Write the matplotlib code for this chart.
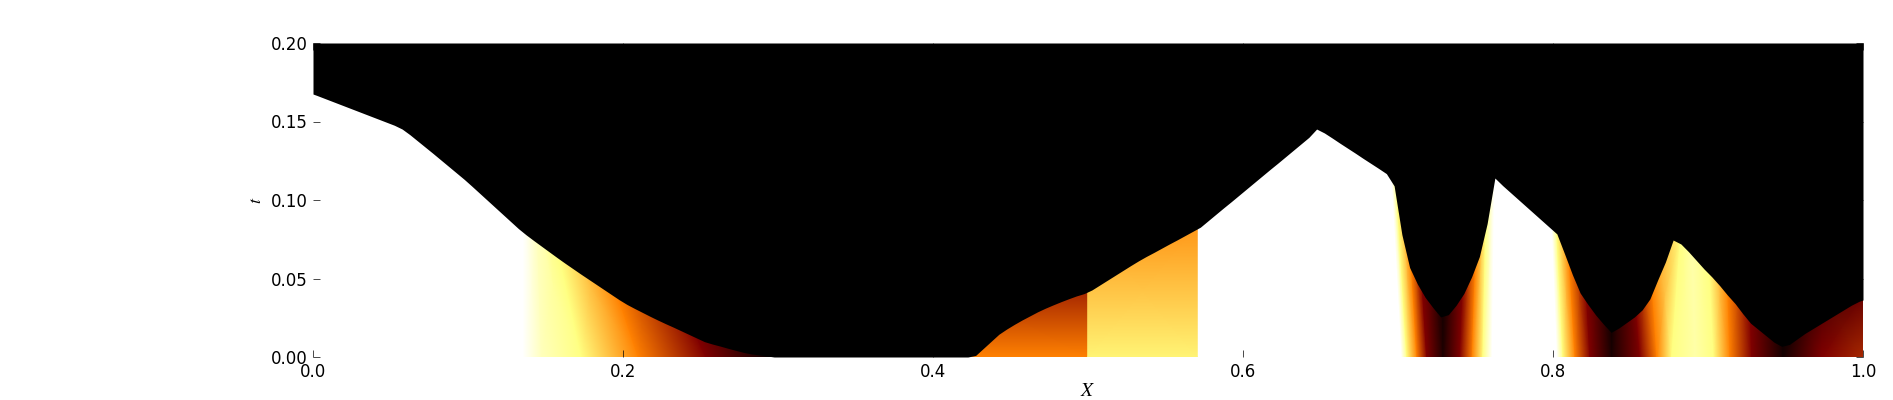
import numpy as np
import matplotlib
matplotlib.use('Agg')
import matplotlib.pyplot as plt

plt.rcParams['mathtext.fontset'] = 'stix'

# Height of the black region's lower edge, every 0.005 in x
front_t = [0.1666, 0.1647, 0.1628, 0.1609, 0.159, 0.1571, 0.1552, 0.1533, 0.1514, 0.1495,
           0.1476, 0.1452, 0.1416, 0.1376, 0.1336, 0.1296, 0.1255, 0.1214, 0.1173, 0.1132,
           0.1088, 0.1043, 0.0998, 0.0953, 0.0908, 0.0863, 0.0818, 0.0778, 0.0741, 0.0705,
           0.0669, 0.0633, 0.0598, 0.0564, 0.053, 0.0497, 0.0464, 0.0431, 0.0398, 0.0365,
           0.0335, 0.0309, 0.0284, 0.0259, 0.0235, 0.0212, 0.019, 0.0167, 0.0144, 0.0121,
           0.0098, 0.0083, 0.007, 0.0056, 0.0043, 0.003, 0.002, 0.0014, 0.0007, 0.0,
           0.0, 0.0, 0.0, 0.0, 0.0, 0.0, 0.0, 0.0, 0.0, 0.0,
           0.0, 0.0, 0.0, 0.0, 0.0, 0.0, 0.0, 0.0, 0.0, 0.0,
           0.0, 0.0, 0.0, 0.0, 0.0, 0.001, 0.0055, 0.01, 0.0145, 0.0178,
           0.0208, 0.0236, 0.0262, 0.0288, 0.0311, 0.0332, 0.0352, 0.0371, 0.0389, 0.0404,
           0.0427, 0.0458, 0.0489, 0.052, 0.0551, 0.0582, 0.0612, 0.064, 0.0666, 0.0693,
           0.072, 0.0746, 0.0773, 0.08, 0.0827, 0.0868, 0.0909, 0.095, 0.099, 0.1031,
           0.1072, 0.1113, 0.1154, 0.1195, 0.1235, 0.1276, 0.1317, 0.1358, 0.1399, 0.1452,
           0.1427, 0.1395, 0.1362, 0.133, 0.1298, 0.1265, 0.1233, 0.1201, 0.1168, 0.109,
           0.078, 0.057, 0.0465, 0.038, 0.0315, 0.0255, 0.027, 0.033, 0.0405, 0.0511,
           0.064, 0.085, 0.114, 0.1092, 0.1048, 0.1004, 0.096, 0.0916, 0.0872, 0.0828,
           0.0784, 0.0656, 0.0525, 0.0408, 0.0335, 0.0268, 0.021, 0.0157, 0.0185, 0.022,
           0.0255, 0.03, 0.037, 0.049, 0.0605, 0.0745, 0.072, 0.067, 0.0615, 0.056,
           0.051, 0.0455, 0.0395, 0.034, 0.0275, 0.0215, 0.0175, 0.0135, 0.0095, 0.0068,
           0.008, 0.0115, 0.015, 0.018, 0.021, 0.024, 0.027, 0.03, 0.033, 0.0355]

# Coloured patches: x of each level at the bottom and top row, and the level there
a_top = 0.09
a_x0 = [0.1357, 0.1473, 0.1733, 0.2099, 0.2536, 0.2977]
a_x1 = [0.1357, 0.1445, 0.1533, 0.1793, 0.2116, 0.25]
a_v0 = [1.0, 0.87, 0.75, 0.5, 0.25, 0.0]
a_v1 = [1.0, 0.87, 0.75, 0.5, 0.25, 0.0]

b_top = 0.045
b_x0 = [0.4176, 0.4998]
b_x1 = [0.4176, 0.4998]
b_v0 = [0.5, 0.5]
b_v1 = [0.31, 0.31]

c_top = 0.085
c_x0 = [0.4998, 0.5705]
c_x1 = [0.4998, 0.5705]
c_v0 = [0.73, 0.73]
c_v1 = [0.54, 0.54]

d_top = 0.115
d_x0 = [0.7023, 0.7056, 0.7121, 0.7185, 0.7291, 0.74, 0.7479, 0.7548, 0.7604]
d_x1 = [0.6959, 0.6985, 0.7052, 0.7112, 0.7291, 0.7442, 0.7517, 0.7572, 0.762]
d_v0 = [1.0, 0.75, 0.5, 0.25, 0.06, 0.25, 0.5, 0.75, 1.0]
d_v1 = [1.0, 0.75, 0.5, 0.25, 0.0, 0.25, 0.5, 0.75, 1.0]

e_top = 0.08
e_x0 = [0.8026, 0.8064, 0.8142, 0.8238, 0.8379, 0.8561, 0.867, 0.8766, 0.8917, 0.9036, 0.9141, 0.9282, 0.9484]
e_x1 = [0.7994, 0.8024, 0.8094, 0.8194, 0.8379, 0.8495, 0.8616, 0.8825, 0.8896, 0.8997, 0.9117, 0.9258, 0.9484]
e_v0 = [1.0, 0.75, 0.5, 0.25, 0.05, 0.25, 0.5, 0.75, 0.83, 0.75, 0.5, 0.25, 0.04]
e_v1 = [1.0, 0.75, 0.5, 0.25, 0.0, 0.25, 0.5, 0.75, 0.83, 0.75, 0.5, 0.25, 0.0]

f_top = 0.04
f_x0 = [0.9484, 0.9734, 1.0]
f_x1 = [0.9484, 0.9734, 1.0]
f_v0 = [0.04, 0.25, 0.33]
f_v1 = [0.0, 0.14, 0.2]

xticks = [0.0, 0.2, 0.4, 0.6, 0.8, 1.0]
yticks = [0.0, 0.05, 0.1, 0.15, 0.2]

patches = [(a_top, a_x0, a_x1, a_v0, a_v1),
           (b_top, b_x0, b_x1, b_v0, b_v1),
           (c_top, c_x0, c_x1, c_v0, c_v1),
           (d_top, d_x0, d_x1, d_v0, d_v1),
           (e_top, e_x0, e_x1, e_v0, e_v1),
           (f_top, f_x0, f_x1, f_v0, f_v1)]

fig = plt.figure(figsize=(18.93, 4.0), dpi=100)
ax = fig.add_axes([313 / 1893, 1 - 357 / 400, 1550 / 1893, 314 / 400])

for top, x0, x1, v0, v1 in patches:
    X = np.array([x0, x1])
    T = np.array([[0.0] * len(x0), [top] * len(x0)])
    C = np.array([v0, v1])
    ax.pcolormesh(X, T, C, shading='gouraud', cmap='afmhot', vmin=0, vmax=1, zorder=1)

# the column readings sit at 0.0025, 0.0075, ...; the ends carry the edge values
front_x = np.r_[0.0, 0.0025 + 0.005 * np.arange(len(front_t)), 1.0]
front_y = np.r_[0.1675, front_t, 0.0363]
ax.fill_between(front_x, front_y, 0.2, color='black', linewidth=0, zorder=1.5)

ax.set_xlim(0, 1)
ax.set_ylim(0, 0.2)
ax.set_xticks(xticks)
ax.set_yticks(yticks)
ax.set_xticklabels(['%.1f' % v for v in xticks])
ax.set_yticklabels(['%.2f' % v for v in yticks])
ax.tick_params(direction='in', length=5, width=0.5, labelsize=12, pad=4,
               top=True, right=True)
for s in ax.spines.values():
    s.set_visible(False)

ax.set_xlabel(r'$X$', fontsize=14)
ax.xaxis.set_label_coords((1088 - 313) / 1550, -(391 - 357) / 314, transform=ax.transAxes)
ax.xaxis.label.set_va('center')
ax.set_ylabel(r'$t$', fontsize=13)
ax.yaxis.set_label_coords((256 - 313) / 1550, (357 - 200) / 314, transform=ax.transAxes)
ax.yaxis.label.set_va('center')

fig.savefig('out.png', dpi=100)
